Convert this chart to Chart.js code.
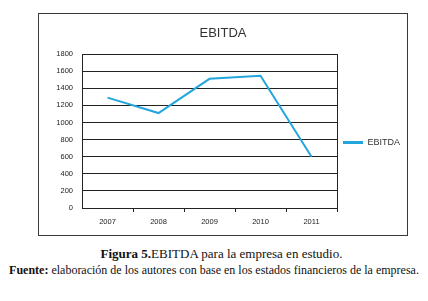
<!DOCTYPE html>
<html>
<head>
<meta charset="utf-8">
<script src="https://cdn.jsdelivr.net/npm/chart.js@4"></script>
<style>
  body { margin: 0; background: #fff; width: 428px; height: 301px; position: relative; overflow: hidden; }
  #box { position: absolute; left: 38px; top: 13px; width: 368px; height: 221px; border: 1px solid #3a3a3a; }
  #caption { position: absolute; left: 0; top: 246px; width: 428px; font-family: "Liberation Serif", "Times New Roman", serif; font-size: 12px; line-height: 16px; color: #111; }
  #caption div { text-align: center; white-space: nowrap; }
</style>
</head>
<body>
<div id="box"><canvas id="graph"></canvas></div>
<div id="caption">
  <div style="padding-left:15px; font-size:13px"><b>Figura 5.</b>EBITDA para la empresa en estudio.</div>
  <div><b>Fuente:</b> elaboración de los autores con base en los estados financieros de la empresa.</div>
</div>
<script>
// years and EBITDA values
const years = ['2007', '2008', '2009', '2010', '2011'];
const ebitda = [1290, 1110, 1510, 1545, 600];
const yTicks = [0, 200, 400, 600, 800, 1000, 1200, 1400, 1600, 1800];

const blue = '#23a6dd';

// draw the frame round the plot area
const frame = {
  id: 'frame',
  afterDraw(chart) {
    const a = chart.chartArea;
    const ctx = chart.ctx;
    ctx.save();
    ctx.strokeStyle = '#222';
    ctx.lineWidth = 1;
    ctx.strokeRect(Math.round(a.left) + 0.5, Math.round(a.top) + 0.5, Math.round(a.right - a.left), Math.round(a.bottom - a.top));
    ctx.restore();
  }
};

const data = {
  labels: years,
  datasets: [{
    label: 'EBITDA',
    data: ebitda,
    borderColor: blue,
    backgroundColor: blue,
    borderWidth: 2,
    pointRadius: 0,
    tension: 0,
    fill: false
  }]
};

const config = {
  type: 'line',
  data: data,
  plugins: [frame],
  options: {
    responsive: false,
    animation: false,
    layout: { padding: { left: 0, right: 0, top: 0, bottom: 0 } },
    plugins: {
      title: {
        display: true,
        text: 'EBITDA',
        color: '#333',
        font: { family: 'Liberation Sans', size: 13, weight: 'normal', lineHeight: 1.2 },
        padding: { top: 12, bottom: 12.4 }
      },
      legend: {
        position: 'right',
        maxWidth: 70,
        title: { display: true, text: '', font: { size: 10, lineHeight: 1.2 }, padding: 12 },
        labels: {
          boxWidth: 20,
          boxHeight: 3,
          color: '#333',
          font: { family: 'Liberation Sans', size: 9 },
          padding: 6,
          generateLabels(chart) {
            const items = Chart.defaults.plugins.legend.labels.generateLabels(chart);
            items.forEach(i => { i.lineWidth = 0; i.fillStyle = blue; });
            return items;
          }
        }
      },
      tooltip: { enabled: false }
    },
    scales: {
      x: {
        offset: true,
        afterFit(s) { s.height = 27; },
        grid: {
          offset: true,
          drawOnChartArea: false,
          drawTicks: true,
          tickLength: 4,
          color: ctx => (ctx.index === 0 || ctx.index === years.length) ? 'rgba(0,0,0,0)' : '#222'
        },
        border: { display: true, color: '#222' },
        ticks: { color: '#222', font: { family: 'Liberation Sans', size: 7.5 }, padding: 5, maxRotation: 0 }
      },
      y: {
        min: 0,
        max: 1800,
        afterFit(s) { s.width = 43; },
        afterBuildTicks(s) { s.ticks = yTicks.map(v => ({ value: v })); },
        grid: { color: '#222', drawTicks: false },
        border: { display: true, color: '#222' },
        ticks: { color: '#222', font: { family: 'Liberation Sans', size: 7.5 }, padding: 9, callback: v => String(v) }
      }
    }
  }
};

const graph = document.querySelector('#graph');
graph.width = 368;
graph.height = 221;
new Chart(graph, config);
</script>
</body>
</html>
